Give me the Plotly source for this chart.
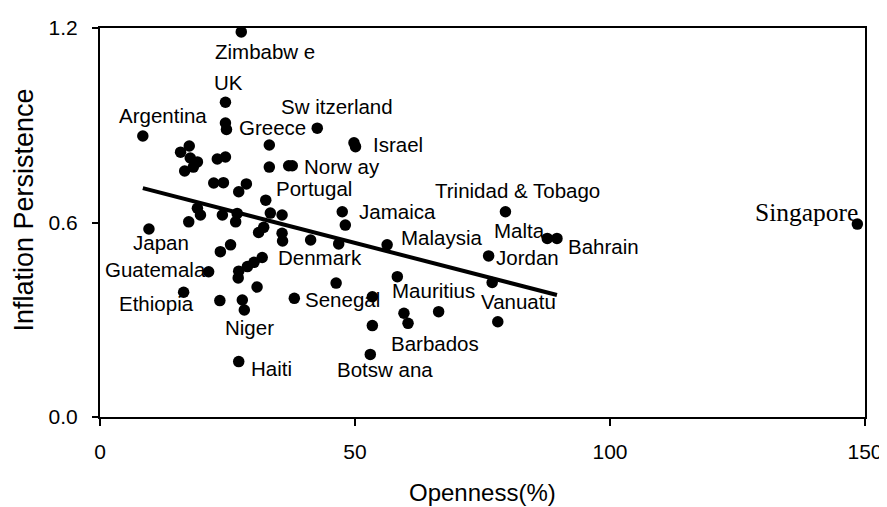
import plotly.graph_objects as go

# ---- data ----
openness = [27.7, 24.6, 24.6, 24.8, 8.4, 42.6, 49.8, 50.1, 33.2, 33.2,
            37.0, 37.7, 15.8, 17.5, 17.7, 16.6, 19.1, 18.3, 23.0, 24.6,
            22.3, 24.2, 27.2, 28.7, 32.5, 19.1, 19.7, 17.4, 24.0, 26.9,
            26.6, 9.6, 33.4, 35.7, 32.1, 31.1, 35.7, 35.8, 41.3, 46.8,
            25.6, 23.6, 31.8, 30.2, 28.9, 27.2, 27.1, 21.3, 30.8, 16.4,
            23.5, 27.9, 28.3, 38.1, 27.2, 46.3, 47.5, 48.1, 56.3, 79.5,
            87.7, 89.6, 76.2, 76.9, 58.3, 53.4, 53.4, 59.6, 60.4, 66.4,
            78.0, 53.0, 148.5]
persistence = [1.188, 0.971, 0.907, 0.887, 0.867, 0.891, 0.846, 0.834, 0.839, 0.771,
               0.775, 0.775, 0.817, 0.836, 0.799, 0.759, 0.787, 0.771, 0.796, 0.802,
               0.722, 0.723, 0.695, 0.719, 0.669, 0.644, 0.623, 0.602, 0.623, 0.628,
               0.602, 0.580, 0.629, 0.623, 0.585, 0.569, 0.567, 0.543, 0.546, 0.534,
               0.531, 0.510, 0.492, 0.477, 0.464, 0.450, 0.429, 0.448, 0.401, 0.385,
               0.359, 0.361, 0.330, 0.366, 0.171, 0.413, 0.633, 0.592, 0.531, 0.633,
               0.551, 0.551, 0.497, 0.415, 0.433, 0.371, 0.282, 0.320, 0.289, 0.325,
               0.294, 0.193, 0.595]
country = ["Zimbabw e", "UK", "Greece", "", "Argentina", "Sw itzerland", "Israel", "", "", "",
           "", "Norw ay", "", "", "", "", "", "", "", "",
           "", "", "", "", "Portugal", "", "", "", "", "",
           "", "Japan", "", "", "", "", "", "", "Denmark", "",
           "", "", "", "", "", "", "", "Guatemala", "", "Ethiopia",
           "", "", "Niger", "Senegal", "Haiti", "", "Jamaica", "", "Malaysia", "Trinidad & Tobago",
           "Malta", "Bahrain", "Jordan", "", "Mauritius", "", "", "", "Barbados", "",
           "Vanuatu", "Botsw ana", "Singapore"]

# fitted regression line
fit_intercept = 0.740
fit_slope = -0.00406
outlier = "Singapore"

x_ticks = [0, 50, 100, 150]
y_ticks = [0.0, 0.6, 1.2]
x_title = "Openness(%)"
y_title = "Inflation Persistence"

# ---- label placement (pixel offsets from their point) ----
label_shift = {
    "Zimbabw e": (24, -20), "UK": (3, 20), "Argentina": (20, 20), "Greece": (47, -5),
    "Sw itzerland": (20, 22), "Israel": (44, -2), "Norw ay": (50, -1),
    "Portugal": (48, 12), "Jamaica": (55, 0), "Trinidad & Tobago": (12, 21),
    "Malaysia": (54, 7), "Malta": (-28, 8), "Bahrain": (47, -8), "Jordan": (39, -2),
    "Vanuatu": (21, 20), "Singapore": (-51, 12), "Japan": (12, -14),
    "Guatemala": (-53, 2), "Ethiopia": (-27, -11), "Niger": (5, -17),
    "Haiti": (33, -7), "Denmark": (9, -17), "Senegal": (48, -1),
    "Mauritius": (36, -14), "Barbados": (27, -20), "Botsw ana": (15, -15),
}

SANS = "Liberation Sans, Arial, sans-serif"
SERIF = "Liberation Serif, Times New Roman, serif"

fig = go.Figure()
fig.add_trace(go.Scatter(
    x=openness, y=persistence, mode="markers",
    marker=dict(color="black", size=11.5),
    cliponaxis=False, showlegend=False,
))

fit_x = [xv for xv, c in zip(openness, country) if c != outlier]
x0, x1 = min(fit_x), max(fit_x)
fig.add_trace(go.Scatter(
    x=[x0, x1], y=[fit_intercept + fit_slope * x0, fit_intercept + fit_slope * x1],
    mode="lines", line=dict(color="black", width=4), showlegend=False,
))

for xv, yv, c in zip(openness, persistence, country):
    if not c:
        continue
    dx, dy = label_shift[c]
    fam = SERIF if c == outlier else SANS
    size = 25.5 if c == outlier else 20.5
    fig.add_annotation(x=xv, y=yv, text=c, showarrow=False, xshift=dx, yshift=dy,
                       font=dict(family=fam, size=size, color="black"))

# axis titles
fig.add_annotation(xref="paper", yref="paper", x=0.5, y=0, yshift=-75, yanchor="middle",
                   text=x_title, showarrow=False, font=dict(family=SANS, size=24, color="black"))
fig.add_annotation(xref="paper", yref="paper", x=0, y=0.5, xshift=-77, yshift=12,
                   xanchor="center", yanchor="middle", text=y_title,
                   textangle=-90, showarrow=False, font=dict(family=SANS, size=27, color="black"))

# page body adds an 8px offset; margins compensate so the plot area sits as in the reference
fig.update_layout(
    width=887, height=507, autosize=False,
    margin=dict(l=91.5, r=30, t=20, b=98),
    paper_bgcolor="white", plot_bgcolor="white",
    font=dict(family=SANS, color="black"),
)
fig.update_xaxes(
    range=[0, 150], tickvals=x_ticks, ticks="outside", ticklen=7, tickwidth=1.5,
    tickcolor="black", showline=True, linecolor="black", linewidth=2, mirror=True,
    showgrid=False, zeroline=False, tickfont=dict(size=21), ticklabelstandoff=8,
    automargin=False,
)
fig.update_yaxes(
    range=[0, 1.2], tickvals=y_ticks, tickformat=".1f", ticks="outside", ticklen=6,
    tickwidth=1.5, tickcolor="black", showline=True, linecolor="black", linewidth=2,
    mirror=True, showgrid=False, zeroline=False, tickfont=dict(size=21), ticklabelstandoff=10,
    automargin=False,
)

fig.write_html("out.html")
